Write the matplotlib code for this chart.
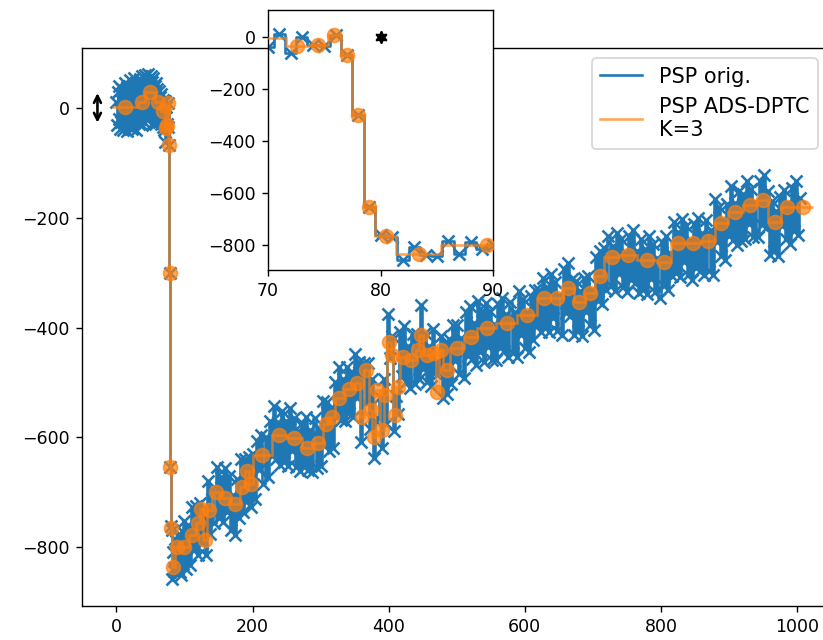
import numpy as np
import matplotlib
matplotlib.use("Agg")
import matplotlib.pyplot as plt
from matplotlib.lines import Line2D

# ---- original PSP signal ----
# samples 0..97 (one per index)
blue_t_head = np.arange(0, 98)
blue_v_head = [
    10, -32, 28, -20, 40, -38, 15, -25, 35, -40, 22, -15, 45, -30, 5, -42,
    38, -22, 30, -35, 50, -10, 25, -38, 42, -28, 55, -18, 32, -40, 48, -5,
    38, -30, 52, -20, 45, -32, 58, -12, 40, -25, 60, -8, 50, -22, 62, 0,
    45, -15, 58, -5, 48, -28, 55, -12, 40, -30, 45, -20, 35,
    # 61 .. 97 : the drop
    -20, 30, -25, 20, -30, 25, -18, 15, -35, -40, 12, -62, 2, -30, -35, 8,
    -68, -300, -653, -762, -768, -857, -808, -838, -844, -785, -836, -788,
    -817, -800, -840, -775, -845, -800, -850, -770, -830,
]

# samples 99..1005 (every third index)
blue_t_tail = np.arange(99, 1006, 3)
blue_v_tail = [
    -752, -839, -760, -832, -726, -805, -725, -814, -719, -792, -735, -815, -679, -776, -694, -756,
    -654, -746, -672, -754, -656, -735, -670, -769, -704, -777, -675, -747, -639, -736, -639, -716,
    -635, -727, -630, -712, -606, -660, -595, -684, -599, -672, -570, -633, -542, -639, -572, -651,
    -552, -644, -570, -652, -546, -625, -565, -654, -589, -662, -573, -653, -562, -659, -586, -663,
    -564, -656, -582, -652, -534, -613, -536, -625, -546, -619, -500, -563, -472, -569, -494, -571,
    -472, -555, -481, -563, -449, -528, -463, -609, -464, -537, -465, -585, -494, -638, -571, -565,
    -527, -619, -493, -575, -376, -455, -415, -589, -524, -557, -408, -488, -397, -500, -433, -510,
    -411, -503, -411, -493, -359, -475, -410, -499, -434, -507, -402, -482, -461, -482, -415, -528,
    -429, -521, -420, -502, -396, -460, -395, -484, -419, -492, -372, -452, -361, -458, -391, -468,
    -352, -444, -370, -462, -356, -435, -370, -459, -394, -459, -357, -437, -346, -443, -376, -453,
    -354, -446, -372, -454, -334, -413, -348, -437, -372, -445, -343, -423, -332, -398, -331, -408,
    -309, -401, -327, -409, -303, -382, -317, -406, -341, -414, -293, -373, -282, -379, -312, -414,
    -315, -407, -333, -415, -309, -372, -307, -396, -331, -404, -271, -351, -260, -357, -255, -332,
    -233, -325, -251, -333, -227, -303, -238, -327, -262, -335, -233, -313, -222, -319, -261, -338,
    -239, -331, -257, -339, -233, -312, -247, -336, -274, -347, -245, -325, -234, -331, -264, -307,
    -208, -300, -226, -308, -202, -281, -216, -305, -240, -313, -211, -291, -200, -297, -227, -304,
    -205, -297, -223, -305, -166, -245, -180, -269, -204, -277, -175, -234, -143, -240, -173, -250,
    -151, -243, -157, -239, -133, -212, -147, -236, -171, -235, -133, -213, -122, -219, -152, -268,
    -169, -261, -187, -269, -163, -215, -150, -239, -174, -247, -145, -225, -134, -231, -164,
]

blue_t = np.concatenate([blue_t_head, blue_t_tail])
blue_v = np.array(blue_v_head + blue_v_tail, dtype=float)

# ---- ADS-DPTC reconstruction: window edges and window levels ----
orange_edges = np.array([
    -7, 32, 42, 56, 66, 71.6, 73.6, 75.3, 76.5, 77.5, 78.5, 79.5, 81.4, 85.4, 93.6,
    106, 117, 122, 127, 133, 140, 153, 167, 181, 189, 194, 201, 228, 250, 272, 289,
    304, 313, 321, 334, 350, 358, 363, 371, 376, 380, 387, 393, 397, 403, 407, 411,
    416, 426, 440, 445, 450, 463, 469, 474, 480, 490, 511, 530, 558, 589, 618, 639,
    656, 672, 688, 703, 717, 738, 765, 794, 815, 836, 859, 879, 898, 921, 941, 958,
    976, 996, 1023,
])
orange_v = np.array([
    2, 11, 28, 10, -5, -36, -32, 9, -68, -300, -653, -765, -836, -800, -800,
    -777, -756, -730, -786, -732, -700, -710, -722, -690, -662, -684, -632, -596,
    -602, -620, -610, -576, -562, -528, -511, -501, -562, -477, -550, -599, -514,
    -587, -523, -426, -450, -559, -508, -453, -459, -441, -413, -450, -447, -517,
    -441, -477, -438, -417, -400, -392, -378, -347, -347, -328, -353, -337, -306,
    -271, -268, -277, -280, -246, -246, -243, -210, -189, -177, -168, -207, -180,
    -180,
], dtype=float)
orange_c = 0.5 * (orange_edges[:-1] + orange_edges[1:])

BLUE = "tab:blue"
ORANGE = "tab:orange"
ALPHA = 0.7


def draw_series(a):
    a.plot(blue_t, blue_v, drawstyle="steps-mid", color=BLUE, lw=1.5, zorder=2)
    a.plot(blue_t, blue_v, "x", color=BLUE, ms=7, mew=1.5, zorder=2)
    a.stairs(orange_v, orange_edges, baseline=None, color=ORANGE, alpha=ALPHA,
             lw=1.5, zorder=3)
    a.plot(orange_c, orange_v, "o", color=ORANGE, alpha=ALPHA, ms=8, zorder=3)


fig = plt.figure(figsize=(823 / 125, 640 / 125), dpi=125)

ax = fig.add_axes([82 / 823, (640 - 606) / 640, 746 / 823, 558 / 640])
draw_series(ax)
ax.set_xlim(-50.7, 1045.6)
ax.set_ylim(-907, 109)
ax.annotate("", xy=(-28, -27), xytext=(-28, 27),
            arrowprops=dict(arrowstyle="<->", color="black", lw=1.5,
                            shrinkA=0, shrinkB=0, mutation_scale=10))
handles = [Line2D([], [], color=BLUE, lw=1.5),
           Line2D([], [], color=ORANGE, alpha=ALPHA, lw=1.5)]
ax.legend(handles, ["PSP orig.", "PSP ADS-DPTC\nK=3"], loc="upper right",
          fontsize=12)

axin = fig.add_axes([268 / 823, (640 - 270) / 640, 225 / 823, 260 / 640])
draw_series(axin)
axin.plot([80], [0], marker=(6, 1, 0), color="black", ms=7, ls="none", zorder=4)
axin.set_xlim(70, 90)
axin.set_ylim(-896, 104)
axin.set_xticks([70, 80, 90])

fig.savefig("out.png", dpi=125)
